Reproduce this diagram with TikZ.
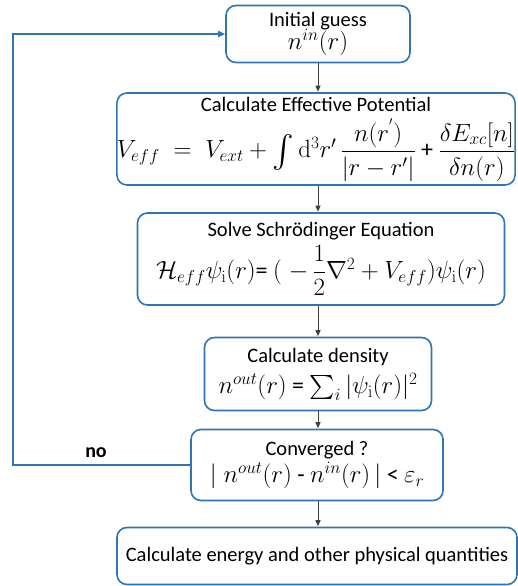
\documentclass[tikz,border=0pt]{standalone}
\usepackage{amsmath,amssymb}
\usepackage[no-math]{fontspec}
\setmainfont{Carlito}
\usepackage{tikz}
\usetikzlibrary{arrows.meta}

\definecolor{boxblue}{RGB}{46,117,182}
\definecolor{flowgray}{RGB}{64,64,64}

\newcommand{\eqline}[1]{{\fontsize{24}{27}\selectfont #1}}
\newcommand{\bigint}{\mathop{\raisebox{-3pt}{\scalebox{1.35}{$\int$}}}}

\begin{document}
\begin{tikzpicture}[>=Triangle, x=1pt, y=-1pt,
  stepbox/.style={draw=boxblue, line width=1.6pt, rounded corners=10pt,
    align=center, inner sep=0pt, font=\fontsize{20.5}{22}\selectfont},
  flow/.style={->, flowgray, line width=1pt, shorten >=0.5pt,
    >={Triangle[length=6pt, width=5pt]}},
  back/.style={->, boxblue, line width=1.6pt,
    >={Triangle[length=7pt, width=6pt]}}]

\useasboundingbox (0,0) rectangle (518,586);

% ============================================================
% Boxes of the self-consistent cycle
% ============================================================
\node[stepbox, minimum width=184pt, minimum height=57pt] (guess) at (318,34)
  {Initial guess\\[-2pt] \eqline{$n^{in}(r)$}};

\node[stepbox, minimum width=398pt, minimum height=92pt] (veff) at (316,139)
  {Calculate Effective Potential\\[7pt]
   \eqline{$V_{eff} \;=\; V_{ext} + \bigint \mathrm{d}^3r'\,
   \dfrac{n(r^{'})}{|r-r'|}$ + $\dfrac{\delta E_{xc}[n]}{\delta n(r)}$}};

\node[stepbox, minimum width=367pt, minimum height=92pt] (schr) at (321,259)
  {Solve Schrödinger Equation\\[5pt]
   \eqline{$\mathcal{H}_{eff}\psi_{\mathrm{i}}(r)$= $(\;-\,\dfrac{1}{2}\nabla^2
   + V_{eff})\psi_{\mathrm{i}}(r)$}};

\node[stepbox, minimum width=227pt, minimum height=73pt] (dens) at (318,374)
  {Calculate density\\[7pt]
   \eqline{$n^{out}(r)$ = $\sum_i |\psi_{\mathrm{i}}(r)|^2$}};

\node[stepbox, minimum width=252pt, minimum height=71pt] (conv) at (317,465)
  {Converged ?\\[2pt]
   \eqline{$|\; n^{out}(r)$ - $n^{in}(r)\,|$ < $\varepsilon_r$}};

\node[stepbox, minimum width=400pt, minimum height=57pt] (energy) at (317,556)
  {Calculate energy and other physical quantities};

% ============================================================
% Downward flow
% ============================================================
\draw[flow] (guess.south) -- (guess.south |- veff.north);
\draw[flow] (veff.south -| guess) -- (guess |- schr.north);
\draw[flow] (schr.south -| guess) -- (guess |- dens.north);
\draw[flow] (dens.south -| guess) -- (guess |- conv.north);
\draw[flow] (conv.south -| guess) -- (guess |- energy.north);

% ============================================================
% Feedback loop (not converged)
% ============================================================
\coordinate (loopx) at (13,0);
\draw[back] (conv.west) -- (conv.west -| loopx) |- (guess.west);
\node[font=\fontsize{20}{22}\selectfont\bfseries] (no) at (96,453) {no};

\end{tikzpicture}
\end{document}
